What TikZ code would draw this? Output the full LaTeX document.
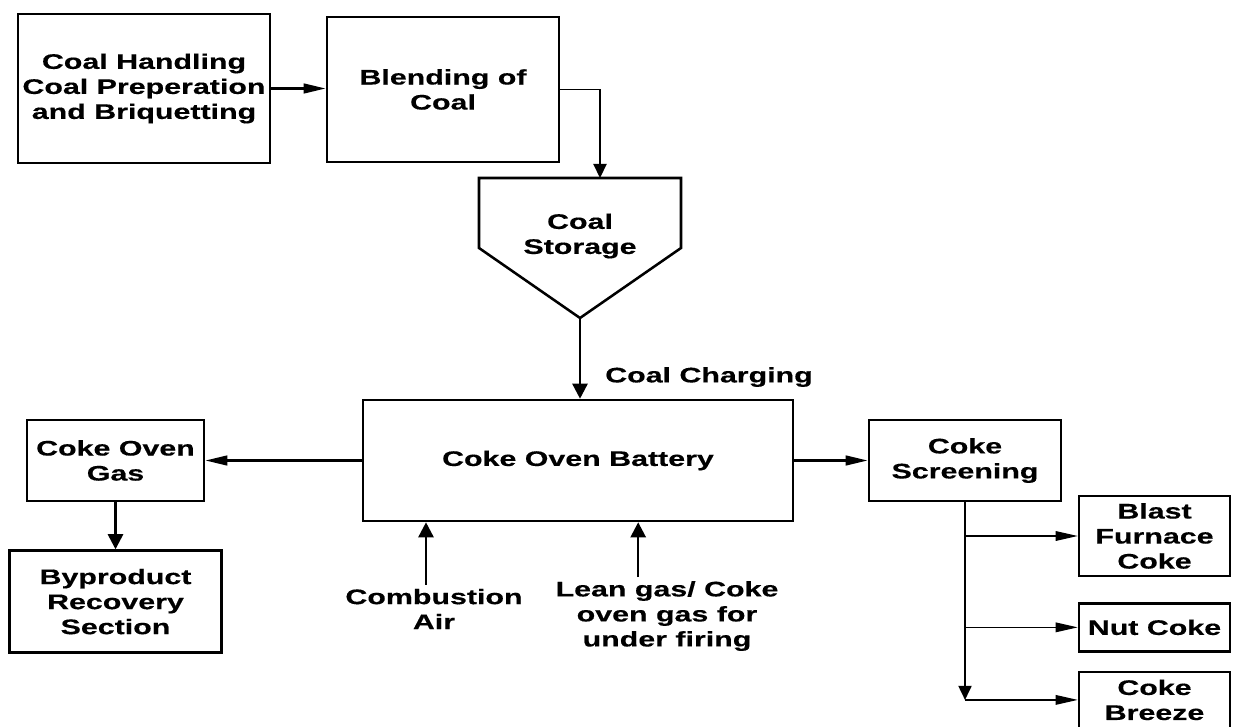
\documentclass[tikz,border=0pt]{standalone}
\usepackage{fontspec}
\setmainfont{Liberation Sans}[FakeStretch=1.44, BoldFeatures={FakeBold=0.4}]
\usetikzlibrary{arrows.meta, positioning}

\begin{document}
\begin{tikzpicture}[x=0.025cm, y=-0.025cm, line width=1.8pt,
    font=\fontsize{15pt}{17.8pt}\selectfont\bfseries,
    blk/.style={draw, align=center, inner sep=2pt},
    lbl/.style={align=center, inner sep=2pt},
    harr/.style={-{Triangle[length=0.55cm, width=0.24cm]}},
    varr/.style={-{Triangle[length=0.38cm, width=0.38cm]}},
    thinh/.style={-{Triangle[length=0.55cm, width=0.24cm]}, line width=0.9pt},
    thinv/.style={-{Triangle[length=0.35cm, width=0.33cm]}, line width=0.9pt}]
    \useasboundingbox (0,0) rectangle (1234,727);

    \node[blk, minimum width=6.3cm, minimum height=3.725cm] (handling) at (144,88.5)
        {Coal Handling\\Coal Preperation\\and Briquetting};
    \node[blk, minimum width=5.8cm, minimum height=3.625cm] (blend) at (443,89.5)
        {Blending of\\Coal};

    % hopper outline
    \coordinate (stA) at (479,178);
    \coordinate (stB) at (681,178);
    \coordinate (stIn) at (600,178);
    \coordinate (stTip) at (580,318);
    \draw (stA) -- (stB) -- (681,248) -- (stTip) -- (479,248) -- cycle;
    \node[lbl] (storage) at (580,236) {Coal\\Storage};

    \node[blk, minimum width=10.75cm, minimum height=3.025cm] (battery) at (578,460.5)
        {Coke Oven Battery};
    \node[lbl] (charge) at (709,377) {Coal Charging};

    \node[blk, minimum width=4.425cm, minimum height=2.025cm] (gas) at (115.5,460.5)
        {Coke Oven\\Gas};
    \node[blk, minimum width=5.3cm, minimum height=2.55cm, below=1.175cm of gas] (byprod)
        {Byproduct\\Recovery\\Section};

    \node[lbl] (air) at (434,609) {Combustion\\Air};
    \node[lbl] (lean) at (667,616) {Lean gas/ Coke\\oven gas for\\under firing};

    \node[blk, minimum width=4.8cm, minimum height=2.025cm] (screen) at (965,460.5)
        {Coke\\Screening};
    \node[blk, minimum width=3.775cm, minimum height=2.0cm] (blast) at (1154.5,536)
        {Blast\\Furnace\\Coke};
    \node[blk, minimum width=3.775cm, minimum height=1.2cm, below=0.62cm of blast] (nut)
        {Nut Coke};
    \node[blk, minimum width=3.775cm, minimum height=1.4cm, below=0.45cm of nut] (breeze)
        {Coke\\Breeze};

    \draw[harr] (handling.east) -- (handling.east -| blend.west);
    \draw[thinv] (blend.east) -| (stIn);
    \draw[varr] (stTip) -- (stTip |- battery.north);
    \draw[harr] (battery.west) -- (gas.east);
    \draw[varr] (gas.south) -- (gas.south |- byprod.north);
    \draw[harr] (battery.east) -- (screen.west);
    \draw[varr] ([xshift=-0.2cm]air.north) -- ([xshift=-0.2cm]air.north |- battery.south);
    \draw[varr] ([xshift=-0.72cm]lean.north) -- ([xshift=-0.72cm]lean.north |- battery.south);

    \draw[thinv] (screen.south) -- (screen.south |- breeze.west);
    \draw[thinh] (screen.south |- blast.west) -- (blast.west);
    \draw[thinh] (screen.south |- nut.west) -- (nut.west);
    \draw[thinh] (screen.south |- breeze.west) -- (breeze.west);
\end{tikzpicture}
\end{document}
